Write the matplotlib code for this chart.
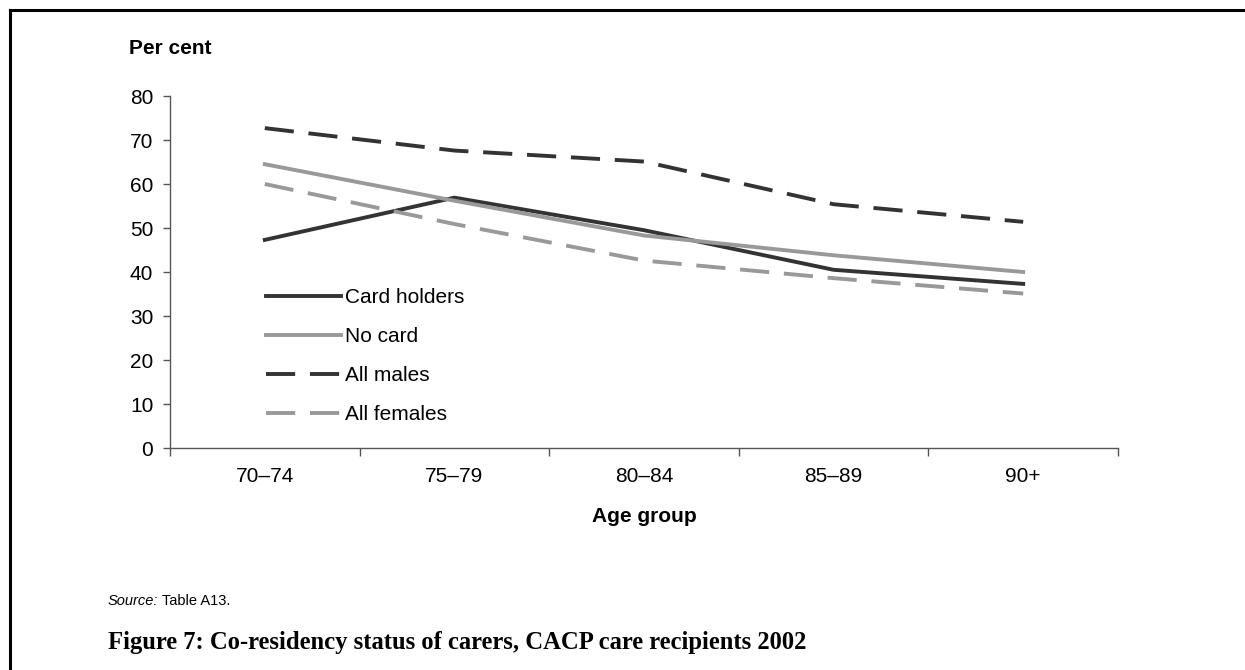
import numpy as np
import matplotlib
matplotlib.use("Agg")
import matplotlib.pyplot as plt
from matplotlib.lines import Line2D

plt.rcParams['font.family'] = ['Liberation Sans', 'DejaVu Sans']

# data
age_groups = ["70\u201374", "75\u201379", "80\u201384", "85\u201389", "90+"]
card_holders = [47.3, 56.9, 49.5, 40.5, 37.3]
no_card = [64.5, 56.2, 48.3, 43.8, 40.0]
all_males = [72.7, 67.6, 65.1, 55.4, 51.4]
all_females = [60.0, 50.9, 42.6, 38.6, 35.1]

DARK = "#333333"
LIGHT = "#999999"
AXC = "#555555"

fig = plt.figure(figsize=(12.45, 6.7), dpi=100)
ax = fig.add_axes([170/1245, 1 - 448/670, (1118-170)/1245, (448-96)/670])

x = np.arange(len(age_groups))
lw = 2.8
ax.plot(x, card_holders, color=DARK, lw=lw, label="Card holders")
ax.plot(x, no_card, color=LIGHT, lw=lw, label="No card")
ax.plot(x, all_males, color=DARK, lw=lw, dashes=(7.5, 3.8), label="All males")
ax.plot(x, all_females, color=LIGHT, lw=lw, dashes=(7.5, 3.8), label="All females")

ax.set_xlim(-0.5, len(age_groups) - 0.5)
ax.set_ylim(0, 80)
ax.set_yticks(range(0, 81, 10))

# tick marks between categories, labels at centres
ax.set_xticks(np.arange(-0.5, len(age_groups), 1.0))
ax.set_xticklabels([])
ax.set_xticks(x, minor=True)
ax.set_xticklabels(age_groups, minor=True)
ax.tick_params(axis='x', which='major', length=6, width=1, color=AXC, direction='out')
ax.tick_params(axis='x', which='minor', length=0, pad=14, labelsize=15)
ax.tick_params(axis='y', length=5, width=1, color=AXC, direction='out', pad=7, labelsize=15)

for side in ['top', 'right']:
    ax.spines[side].set_visible(False)
for side in ['left', 'bottom']:
    ax.spines[side].set_color(AXC)
    ax.spines[side].set_linewidth(1)

ax.legend(loc='center left', bbox_to_anchor=(0.101, 0.261), frameon=False,
          fontsize=15, handlelength=3.6, handletextpad=0.2, labelspacing=0.95,
          borderpad=0, borderaxespad=0)

fig.text(129/1245, 1 - 49/670, "Per cent", fontsize=15, fontweight='bold',
         ha='left', va='center')
fig.text(644/1245, 1 - 517/670, "Age group", fontsize=15, fontweight='bold',
         ha='center', va='center')

# source note (italic "Source:" then plain text right after it) and caption
src = fig.text(108/1245, 1 - 601/670, "Source:", fontsize=10.5, style='italic',
               ha='left', va='center')
ax.annotate(" Table A13.", xy=(1, 0), xycoords=src, fontsize=10.5,
            ha='left', va='bottom', annotation_clip=False)
fig.text(108/1245, 1 - 642/670,
         "Figure 7: Co-residency status of carers, CACP care recipients 2002",
         fontsize=17.7, fontweight='bold', family='Liberation Serif',
         ha='left', va='center')

# frame lines at top and left
fig.add_artist(Line2D([10/1245, 1], [1 - 10/670, 1 - 10/670], color='black', lw=2.2,
                      transform=fig.transFigure))
fig.add_artist(Line2D([10/1245, 10/1245], [0, 1 - 10/670], color='black', lw=2.2,
                      transform=fig.transFigure))

fig.savefig("out.png", dpi=100, facecolor='white')
